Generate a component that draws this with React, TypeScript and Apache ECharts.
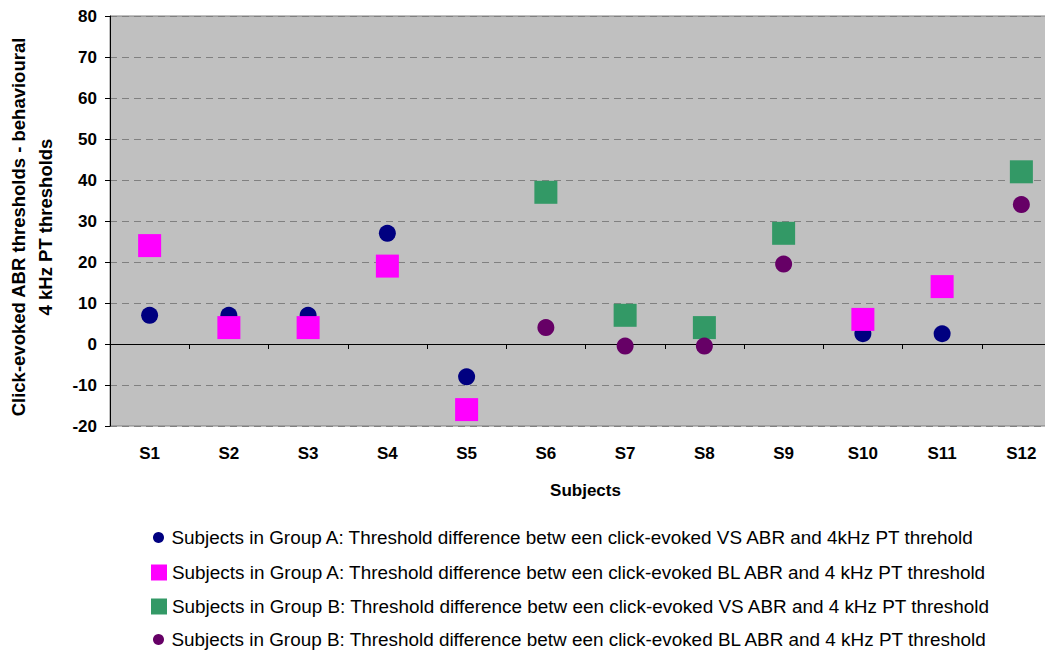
import React, { useEffect, useRef } from "react";
import * as echarts from "echarts";

const categories = ["S1", "S2", "S3", "S4", "S5", "S6", "S7", "S8", "S9", "S10", "S11", "S12"];
const groupAVsAbr: (number | null)[] = [7, 7, 7, 27, -8, null, null, null, null, 2.5, 2.5, null];
const groupABlAbr: (number | null)[] = [24, 4, 4, 19, -16, null, null, null, null, 6, 14, null];
const groupBVsAbr: (number | null)[] = [null, null, null, null, null, 37, 7, 4, 27, null, null, 42];
const groupBBlAbr: (number | null)[] = [null, null, null, null, null, 4, -0.5, -0.5, 19.5, null, null, 34];

const seriesNames = [
  "Subjects in Group A: Threshold difference betw een click-evoked VS ABR and 4kHz PT threhold",
  "Subjects in Group A: Threshold difference betw een click-evoked BL ABR and 4 kHz PT threshold",
  "Subjects in Group B: Threshold difference betw een click-evoked VS ABR and 4 kHz PT threshold",
  "Subjects in Group B: Threshold difference betw een click-evoked BL ABR and 4 kHz PT threshold",
];
const colors = ["#000080", "#FF00FF", "#339966", "#660066"];
const yTicks = { min: -20, max: 80, interval: 10 };

const FONT = "'Liberation Sans', Arial, sans-serif";

export default function App() {
  const ref = useRef<HTMLDivElement>(null);
  useEffect(() => {
    document.body.style.margin = "0";
    document.body.style.overflow = "hidden";
    const chart = echarts.init(ref.current!, undefined, { renderer: "svg" });
    const toData = (arr: (number | null)[]) => arr.map((v) => (v === null ? "-" : v));
    const legendBase = (i: number, left: number, top: number, icon: string, h: number) => ({
      data: [seriesNames[i]],
      left,
      top,
      padding: 0,
      icon,
      itemWidth: 16,
      itemHeight: h,
      itemGap: 0,
      selectedMode: false,
      textStyle: { fontSize: 18.9, color: "#000", fontFamily: FONT },
    });
    chart.setOption({
      animation: false,
      textStyle: { fontFamily: FONT },
      grid: {
        left: 110,
        top: 16,
        right: -16,
        bottom: 224,
        outerBoundsMode: "none",
        containLabel: false,
        show: true,
        backgroundColor: "#C0C0C0",
        borderColor: "#808080",
        borderWidth: 1,
      },
      legend: [
        legendBase(0, 153, 528, "circle", 11),
        legendBase(1, 151, 563, "rect", 16),
        legendBase(2, 151, 597, "rect", 16),
        legendBase(3, 153, 630, "circle", 11),
      ],
      xAxis: {
        type: "category",
        data: categories,
        boundaryGap: true,
        axisLine: { onZero: true, lineStyle: { color: "#000", width: 1 } },
        axisTick: { show: true, inside: false, length: 5, lineStyle: { color: "#000" } },
        axisLabel: { margin: 19, fontSize: 17, fontWeight: "bold", color: "#000", fontFamily: FONT },
        splitLine: { show: false },
        name: "Subjects",
        nameLocation: "middle",
        nameGap: 56,
        nameTextStyle: { fontSize: 17, fontWeight: "bold", color: "#000", fontFamily: FONT },
      },
      yAxis: {
        type: "value",
        min: yTicks.min,
        max: yTicks.max,
        interval: yTicks.interval,
        axisLine: { show: true, onZero: false, lineStyle: { color: "#000", width: 1 } },
        axisTick: { show: true, length: 5, lineStyle: { color: "#000" } },
        axisLabel: { margin: 13, fontSize: 17, fontWeight: "bold", color: "#000", fontFamily: FONT },
        splitLine: { show: true, lineStyle: { color: "#808080", type: [7, 5], width: 1 } },
        name: "Click-evoked ABR thresholds - behavioural\n4 kHz PT thresholds",
        nameLocation: "middle",
        nameGap: 51,
        nameTextStyle: {
          fontSize: 18.5,
          fontWeight: "bold",
          color: "#000",
          fontFamily: FONT,
          lineHeight: 27,
          align: "center",
          padding: [0, 12, 0, 0],
        },
      },
      series: [
        { name: seriesNames[0], type: "scatter", symbol: "circle", symbolSize: 17, itemStyle: { color: colors[0], opacity: 1 }, data: toData(groupAVsAbr) },
        { name: seriesNames[1], type: "scatter", symbol: "rect", symbolSize: 23, itemStyle: { color: colors[1], opacity: 1 }, data: toData(groupABlAbr) },
        { name: seriesNames[2], type: "scatter", symbol: "rect", symbolSize: 23, itemStyle: { color: colors[2], opacity: 1 }, data: toData(groupBVsAbr) },
        { name: seriesNames[3], type: "scatter", symbol: "circle", symbolSize: 17, itemStyle: { color: colors[3], opacity: 1 }, data: toData(groupBBlAbr) },
      ],
    });
    return () => chart.dispose();
  }, []);
  return <div ref={ref} style={{ width: 1045, height: 650 }} />;
}
